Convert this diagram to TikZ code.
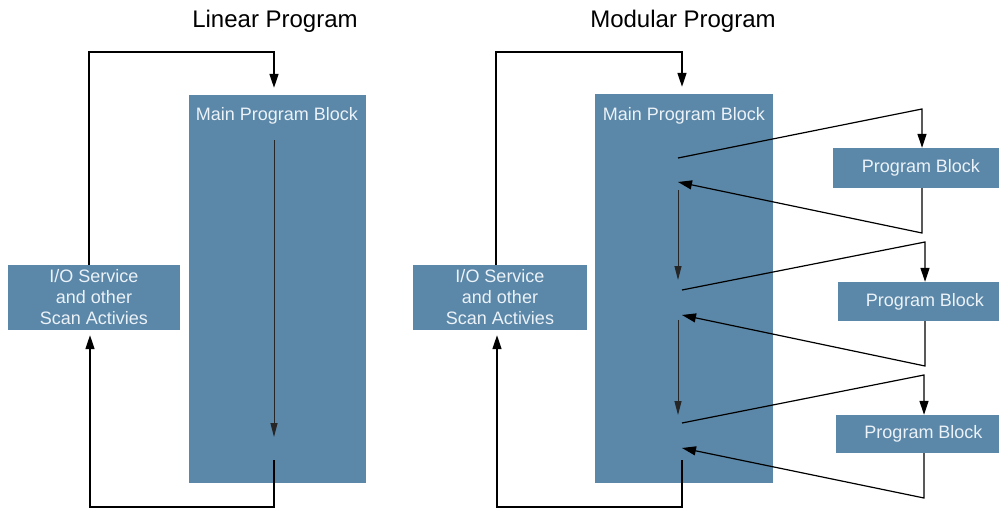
\documentclass[tikz,border=0pt]{standalone}
\usepackage{fontspec}
\setmainfont{Liberation Sans}
\usetikzlibrary{arrows.meta,calc}
\definecolor{blk}{RGB}{91,135,168}
\definecolor{btxt}{RGB}{235,242,248}
\begin{document}
\begin{tikzpicture}[x=1pt,y=-1pt,
  block/.style={fill=blk,draw=none,inner sep=0pt,text=btxt,font=\fontsize{18}{21}\selectfont,align=center},
  btext/.style={text=btxt,font=\fontsize{18}{21}\selectfont,inner sep=0pt},
  ttl/.style={font=\fontsize{24}{28}\selectfont,inner sep=0pt},
  conn/.style={line width=1.5pt,black},
  arr/.style={conn,-{Triangle[length=14pt,width=9pt]}},
  zig/.style={line width=1.2pt,black},
  ziga/.style={zig,-{Triangle[length=14pt,width=9pt]}},
  thinl/.style={line width=1pt,black!85},
  thina/.style={thinl,-{Triangle[length=14pt,width=7pt]}}]
\useasboundingbox (0,0) rectangle (999,511);
\clip (0,0) rectangle (999,511);
\fill[white] (0,0) rectangle (999,511);

% titles
\node[ttl,anchor=base] (t1) at (275,28) {Linear Program};
\node[ttl,anchor=base] (t2) at (683,28) {Modular Program};

% ---------- Linear ----------
\node[block,minimum width=177pt,minimum height=388pt] (main1) at (277.5,289) {};
\node[btext,anchor=base] (main1t) at (277,121) {Main Program Block};
\node[block,minimum width=172pt,minimum height=65pt] (io1) at (94,297.5) {I/O Service\\and other\\Scan Activies};

\coordinate (la) at (89,52);
\coordinate (lb) at (274,52);
\draw[arr] (io1.north -| la) -- (la) -- (lb) -- ([yshift=7pt]lb |- main1.north);
\coordinate (li1) at (274,140);
\coordinate (li2) at (274,437);
\draw[thina] (li1) -- (li2);
\coordinate (lc) at (274,460);
\coordinate (ld) at (274,507);
\coordinate (le) at (90,507);
\draw[arr] (lc) -- (ld) -- (le) -- ([yshift=-5pt]le |- io1.south);

% ---------- Modular ----------
\node[block,minimum width=178pt,minimum height=389pt] (main2) at (684,288.5) {};
\node[btext,anchor=base] (main2t) at (684,121) {Main Program Block};
\node[block,minimum width=174pt,minimum height=65pt] (io2) at (500,297.5) {I/O Service\\and other\\Scan Activies};

\node[block,minimum width=176pt,minimum height=40pt] (pb1) at (921,168) {Program Block};
\node[block,minimum width=174pt,minimum height=39pt] (pb2) at (925,301.5) {Program Block};
\node[block,minimum width=175pt,minimum height=38pt] (pb3) at (923.5,434) {Program Block};

\coordinate (ma) at (496,52);
\coordinate (mb) at (682,52);
\draw[arr] (io2.north -| ma) -- (ma) -- (mb) -- ([yshift=7pt]mb |- main2.north);
\coordinate (mc) at (682,460);
\coordinate (md) at (682,507);
\coordinate (me) at (497,507);
\draw[arr] (mc) -- (md) -- (me) -- ([yshift=-5pt]me |- io2.south);

% block 1
\coordinate (s1) at (678,158);
\coordinate (k1) at (922,109);
\draw[ziga] (s1) -- (k1) -- (k1 |- pb1.north);
\coordinate (k2) at (922,233);
\coordinate (r1) at (678,182);
\draw[ziga] (k2 |- pb1.south) -- (k2) -- (r1);
\coordinate (v1a) at (678,190);
\coordinate (v1b) at (678,280);
\draw[thina] (v1a) -- (v1b);
% block 2
\coordinate (s2) at (682,290);
\coordinate (k3) at (925,242);
\draw[ziga] (s2) -- (k3) -- (k3 |- pb2.north);
\coordinate (k4) at (925,366);
\coordinate (r2) at (682,315);
\draw[ziga] (k4 |- pb2.south) -- (k4) -- (r2);
\coordinate (v2a) at (678,320);
\coordinate (v2b) at (678,415);
\draw[thina] (v2a) -- (v2b);
% block 3
\coordinate (s3) at (682,423);
\coordinate (k5) at (924,375);
\draw[ziga] (s3) -- (k5) -- (k5 |- pb3.north);
\coordinate (k6) at (924,498);
\coordinate (r3) at (682,448);
\draw[ziga] (k6 |- pb3.south) -- (k6) -- (r3);
\end{tikzpicture}
\end{document}
